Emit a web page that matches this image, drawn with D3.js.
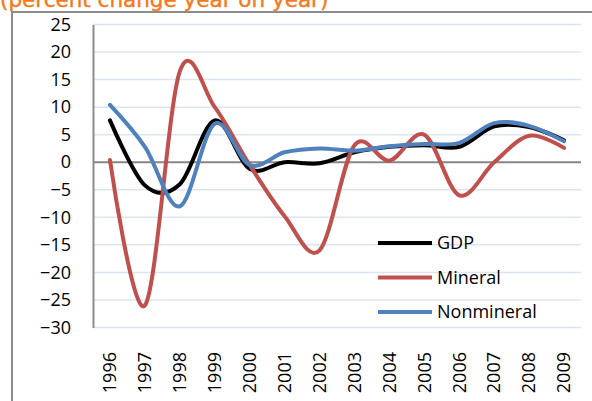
<!DOCTYPE html>
<html>
<head>
<meta charset="utf-8">
<script src="https://cdn.jsdelivr.net/npm/d3@7"></script>
<style>
  html, body { margin: 0; padding: 0; background: #fff; }
  svg { display: block; }
</style>
</head>
<body>
<svg id="chart" width="592" height="401"></svg>
<script>
// data
const years = ["1996", "1997", "1998", "1999", "2000", "2001", "2002",
  "2003", "2004", "2005", "2006", "2007", "2008", "2009"];
const gdp = [7.6, -4.2, -4, 7.6, -1.2, 0, -0.2, 1.8, 2.8, 3.1, 2.8, 6.5, 6.4, 4.0];
const mineral = [0.4, -26, 16.5, 10, -0.5, -9.8, -16, 3.1, 0.3, 5, -6, 0, 4.8, 2.6];
const nonmineral = [10.4, 2.8, -8, 7, -0.5, 1.8, 2.5, 2.1, 2.9, 3.3, 3.5, 7.1, 6.6, 3.8];
const yTicks = [25, 20, 15, 10, 5, 0, -5, -10, -15, -20, -25, -30];
const seriesNames = ["GDP", "Mineral", "Nonmineral"];

const colors = ["#000000", "#c0504d", "#4f81bd"];
const font = "'Open Sans', sans-serif";

const svg = d3.select("#chart");

const x = d3.scaleBand()
  .domain(years)
  .range([92.5, 581.5]);

const y = d3.scaleLinear()
  .domain([-30, 25])
  .range([327.5, 24.5]);

// outer frame
svg.append("path")
  .attr("d", "M12,401V12H592")
  .attr("fill", "none")
  .attr("stroke", "#8c8c8c")
  .attr("stroke-width", 2);

// title, partly cut off at the top as in the source
svg.append("text")
  .attr("x", 0)
  .attr("y", 7)
  .attr("fill", "#f47920")
  .attr("font-family", "'DejaVu Sans', sans-serif")
  .attr("font-size", 21.5)
  .attr("stroke", "#f47920")
  .attr("stroke-width", 0.4)
  .text("(percent change year on year)");

// gridlines
svg.append("g")
  .selectAll("line")
  .data(yTicks.filter(d => d !== 0))
  .enter()
  .append("line")
  .attr("x1", 93)
  .attr("x2", 581)
  .attr("y1", d => y(d))
  .attr("y2", d => y(d))
  .attr("stroke", "#dce6f2")
  .attr("stroke-width", 1.5);

// y axis
const yAxis = svg.append("g")
  .attr("transform", "translate(93,0)")
  .call(d3.axisLeft(y).tickValues(yTicks).tickSize(0).tickPadding(22));
yAxis.select(".domain")
  .attr("stroke", "#8c8c8c")
  .attr("stroke-width", 2);
yAxis.selectAll("text")
  .attr("font-family", font)
  .attr("font-size", 18)
  .attr("fill", "#000");

// zero line
svg.append("line")
  .attr("x1", 93)
  .attr("x2", 581)
  .attr("y1", y(0))
  .attr("y2", y(0))
  .attr("stroke", "#868686")
  .attr("stroke-width", 2);

// x labels
const xAxis = svg.append("g")
  .attr("transform", "translate(0,352)")
  .call(d3.axisBottom(x).tickSize(0).tickPadding(0));
xAxis.select(".domain").remove();
xAxis.selectAll("text")
  .attr("font-family", font)
  .attr("font-size", 18)
  .attr("fill", "#000")
  .attr("transform", "rotate(-90)")
  .attr("text-anchor", "end")
  .attr("x", 0)
  .attr("y", 0)
  .attr("dy", "0.35em");

// lines
const line = d3.line()
  .x((d, i) => x(years[i]) + x.bandwidth() / 2)
  .y(d => y(d))
  .curve(d3.curveCardinal.tension(0));

const allSeries = [gdp, mineral, nonmineral];
svg.append("g")
  .selectAll("path")
  .data(allSeries)
  .enter()
  .append("path")
  .attr("d", line)
  .attr("fill", "none")
  .attr("stroke", (d, i) => colors[i])
  .attr("stroke-width", 4)
  .attr("stroke-linecap", "round")
  .attr("stroke-linejoin", "round");

// legend
const legend = svg.append("g")
  .selectAll("g")
  .data(seriesNames)
  .enter()
  .append("g")
  .attr("transform", (d, i) => `translate(378,${243 + i * 34.5})`);
legend.append("line")
  .attr("x1", 0)
  .attr("x2", 54)
  .attr("stroke", (d, i) => colors[i])
  .attr("stroke-width", 4);
legend.append("text")
  .attr("x", 59)
  .attr("dy", "0.35em")
  .attr("font-family", font)
  .attr("font-size", 18)
  .text(d => d);
</script>
</body>
</html>
